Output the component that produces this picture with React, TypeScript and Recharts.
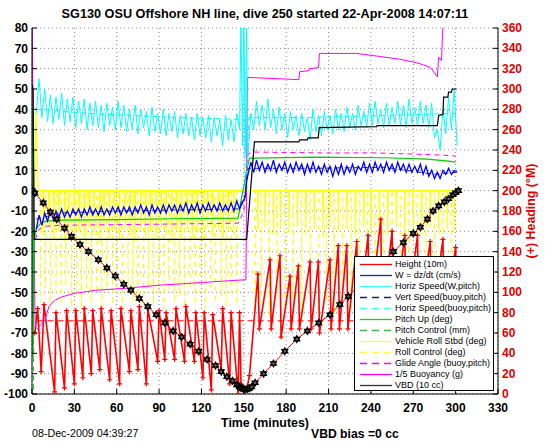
import React from 'react';
import { ComposedChart, Line, XAxis, YAxis, CartesianGrid } from 'recharts';

type Pair = [number, number];

const TITLE = 'SG130 OSU Offshore NH line, dive 250 started 22-Apr-2008 14:07:11';
const X_LABEL = 'Time (minutes)';
const RIGHT_LABEL = '(+) Heading (°M)';
const DATE_TEXT = '08-Dec-2009 04:39:27';
const BIAS_TEXT = 'VBD bias =0 cc';

const xTicks = [0, 30, 60, 90, 120, 150, 180, 210, 240, 270, 300, 330];
const leftTicks = [-100, -90, -80, -70, -60, -50, -40, -30, -20, -10, 0, 10, 20, 30, 40, 50, 60, 70, 80];
const rightTicks = [0, 20, 40, 60, 80, 100, 120, 140, 160, 180, 200, 220, 240, 260, 280, 300, 320, 340, 360];

// sample times of the noisy speed traces
const descentTimes = [3, 5, 7, 9, 11, 13, 15, 17, 19, 21, 23, 25, 27, 29, 31, 33, 35, 37, 39, 41, 43, 45, 47, 49, 51, 53, 55, 57, 59, 61, 63, 65, 67, 69, 71, 73, 75, 77, 79, 81, 83, 85, 87, 89, 91, 93, 95, 97, 99, 101, 103, 105, 107, 109, 111, 113, 115, 117, 119, 121, 123, 125, 127, 129, 131, 133, 135, 137, 139, 141, 143, 145, 147];
const ascentTimes = [153, 155, 157, 159, 161, 163, 165, 167, 169, 171, 173, 175, 177, 179, 181, 183, 185, 187, 189, 191, 193, 195, 197, 199, 201, 203, 205, 207, 209, 211, 213, 215, 217, 219, 221, 223, 225, 227, 229, 231, 233, 235, 237, 239, 241, 243, 245, 247, 249, 251, 253, 255, 257, 259, 261, 263, 265, 267, 269, 271, 273, 275, 277, 279, 281, 283, 285, 287, 289, 291, 293, 295, 297, 299, 301];

// Horiz Speed (W,pitch) cm/s
const horizSpeedDescent = [38, 55, 36, 50, 34, 47, 33, 46, 35, 48, 32, 45, 34, 46, 31, 44, 33, 45, 30, 43, 32, 44, 31, 42, 29, 43, 32, 41, 30, 44, 31, 42, 29, 40, 30, 42, 28, 40, 31, 39, 27, 41, 29, 38, 28, 40, 27, 38, 29, 39, 26, 37, 28, 38, 27, 36, 25, 38, 27, 36, 26, 37, 24, 36, 27, 35, 22, 37, 25, 35, 24, 38, 30];
const horizSpeedApogee: Pair[] = [[148, 88], [149, 22], [150, 88], [151, 18], [152, 86], [152.6, 16]];
const horizSpeedAscent = [18, 38, 30, 44, 32, 42, 30, 45, 31, 40, 28, 41, 30, 38, 26, 39, 30, 37, 27, 38, 29, 36, 25, 40, 29, 37, 27, 39, 30, 37, 28, 40, 30, 38, 29, 41, 31, 38, 30, 42, 32, 39, 31, 43, 32, 44, 33, 40, 31, 43, 32, 41, 33, 44, 32, 42, 31, 45, 33, 41, 32, 44, 33, 42, 31, 43, 26, 30, 20, 40, 28, 46, 30, 50, 22];

// W = dz/dt cm/s
const wDescent = [-19, -12, -17, -11, -15, -10, -14, -10, -13, -9, -13, -10, -13, -9, -12, -9, -13, -9, -12, -8, -12, -9, -12, -8, -12, -9, -12, -8, -11, -8, -12, -8, -11, -8, -12, -8, -11, -7, -11, -8, -12, -7, -11, -8, -11, -7, -11, -7, -10, -7, -11, -7, -10, -6, -11, -7, -10, -6, -11, -7, -10, -6, -10, -7, -10, -6, -10, -7, -10, -6, -10, -5, -9];
const wApogee: Pair[] = [[149, -6], [151, -3], [152, 5]];
const wAscent = [8, 14, 9, 15, 10, 14, 9, 13, 10, 15, 9, 13, 10, 14, 9, 13, 9, 14, 10, 13, 8, 13, 9, 14, 9, 12, 8, 13, 9, 12, 7, 12, 8, 13, 8, 12, 9, 13, 8, 12, 10, 14, 9, 13, 9, 14, 10, 13, 9, 14, 10, 13, 9, 14, 10, 13, 9, 13, 9, 12, 9, 13, 8, 12, 7, 10, 6, 9, 6, 10, 8, 11, 8, 10, 9];

// Height (10 m) profile, sampled points carry the black markers
const heightProfile: Pair[] = [[0, 0], [2, -1.2], [8, -6], [13, -10.5], [17.5, -14], [23, -18.5], [28, -22.5], [34, -26.5], [40, -30], [47, -34], [53, -38], [59, -42], [65, -46], [70, -49], [76, -53], [82, -57], [88, -61], [94, -65], [100, -69], [106, -72], [112, -75.5], [118, -79], [124, -83], [130, -86], [134, -89], [138, -91.5], [142, -93.5], [145, -95.5], [147, -96.5], [148, -97], [149.5, -97.5], [151, -97.8], [152.5, -97.5], [154, -97.2], [155.5, -96.5], [158, -94.5], [164, -90], [171, -85], [179, -79], [187.5, -73], [195, -69], [203, -65], [211, -61], [218, -56], [224, -52], [232, -46], [240, -40.5], [248, -35], [256, -30], [263, -25.5], [270, -21], [275, -18], [280, -14], [284, -10], [288, -7.5], [292, -5.5], [295, -4], [298, -2], [300, -1], [302, 0]];

// Heading (deg M), right axis
const headingDescent: Pair[] = [[2, 60], [4, 84], [6.5, 22], [8.5, 88], [16, 2], [17, 80], [23, 6], [24.5, 82], [30, 10], [31, 82], [36, 16], [37, 84], [42, 20], [43, 82], [48, 24], [49, 84], [55, 14], [56, 82], [62, 10], [63, 84], [69, 22], [70, 82], [75, 24], [76, 86], [81, 10], [82, 84], [89, 32], [90, 82], [94, 34], [95, 80], [101, 34], [102, 84], [108, 32], [109, 86], [115, 32], [116, 80], [121, 16], [122, 80], [127, 4], [128, 78], [134, 24], [135, 84], [140, 10], [141, 80], [146, 0]];
const headingAscent: Pair[] = [[147, 80], [148, 10], [152, 4], [154, 18], [160, 118], [161, 64], [168.6, 132], [169.4, 64], [175.6, 136], [176.4, 56], [182.7, 116], [183.5, 64], [188.6, 126], [189.4, 64], [196.9, 130], [197.7, 64], [202.8, 130], [203.6, 60], [211, 132], [211.8, 64], [216.9, 146], [217.7, 64], [222.9, 146], [223.7, 64], [230, 150], [230.8, 68], [238, 156], [238.8, 70], [247, 172], [247.8, 72], [255, 160], [255.8, 68], [264, 156], [264.8, 70], [273, 156], [273.8, 72], [282, 150], [282.8, 68], [291, 152], [291.8, 70], [300, 144], [301, 70]];
const desiredHeading: Pair[] = [[4, 72], [301, 72]];

const vbd: Pair[] = [[0, 52], [0.8, 50], [1.5, -24], [152, -24], [157.5, 24], [189, 24], [189.5, 25], [195, 25], [195.5, 26], [202.7, 26], [203.4, 31], [244, 31.5], [244.5, 32], [287, 32], [288, 37], [291, 37.5], [291.5, 46], [294.5, 46], [295, 48.5], [297, 48.5], [297.5, 50], [300.6, 50]];
const buoyancy: Pair[] = [[0.2, 82], [1, 20], [2, -55], [2.3, -67], [4, -68], [6, -66], [9, -64], [12, -57], [16, -54], [20, -52.5], [30, -50.5], [45, -49], [66, -48], [90, -46.5], [113, -45.5], [135, -44.5], [151.5, -43.8], [152.5, 55.7], [189, 54.6], [189.5, 58.5], [196, 59], [196.5, 60], [203, 60.5], [203.5, 67.5], [230, 67.5], [242, 66.4], [260, 64.7], [272, 63], [282, 60.7], [287, 56], [288, 65.6], [290, 64], [291, 82], [300, 82]];
const glideAngle: Pair[] = [[2.5, -24], [4, -20], [6, -18.5], [10, -17.5], [20, -17], [60, -16.7], [100, -16.4], [146, -16], [150, -10], [153, 18], [156, 19], [180, 18.8], [210, 18.5], [240, 18.6], [270, 18], [290, 17.5], [300, 17]];
const pitchUp: Pair[] = [[0.3, 40], [0.7, -82], [1.5, -24], [3, -19], [6, -16], [10, -15], [20, -14.5], [60, -14.2], [100, -13.8], [146, -13.5], [148, -5], [150, 2], [152, 10], [154, 16], [200, 16.5], [250, 16.2], [280, 15.5], [295, 14.5], [300, 14]];
const pitchControl: Pair[] = [[0.8, -20], [1, -85], [1.1, -130], [300, -130]];
const vertSpeedBuoy: Pair[] = [[3, -14], [20, -11], [60, -10], [100, -9.5], [146, -9], [151, -2], [153, 11], [200, 11], [250, 11.5], [285, 8], [300, 9]];
const horizSpeedBuoy: Pair[] = [[3, 40], [40, 38], [100, 36], [150.5, 35], [151, 0], [152, 0], [153.5, 36], [200, 36], [250, 37], [300, 38]];

const rollStart: Pair[] = [[0, 0], [2, 0], [2.8, 40], [3.5, 22], [4.5, 0]];
const rollSpikes: Pair[] = [[8, -22], [12, -18], [15.5, -24], [19, -20], [23, -25], [26, -19], [30, -23], [33.5, -20], [37, -24], [40.5, -18], [44, -22], [48, -25], [51, -19], [55, -23], [58.5, -20], [62, -24], [66, -18], [69.5, -22], [73, -25], [77, -19], [80.5, -23], [84, -20], [88, -24], [91.5, -18], [95, -22], [99, -25], [102.5, -20], [106, -23], [110, -19], [113.5, -24], [117, -21], [121, -25], [124.5, -18], [128, -23], [132, -20], [135.5, -24], [139, -19], [143, -22], [160, -20], [165, -18], [171, -22], [176, -19], [182, -21], [188, -18], [194, -22], [200, -19], [206, -23], [211, -18], [217, -21], [223, -19], [229, -22], [235, -18], [240, -21], [246, -19], [252, -22], [258, -18], [264, -21], [270, -19], [276, -22], [282, -18], [288, -21], [294, -19], [299, -20]];
const rollControlSpikes: Pair[] = [[6, -55], [9.5, -48], [13, -58], [17, -50], [20.5, -56], [24, -47], [28, -57], [31.5, -52], [35, -58], [38.5, -49], [42, -55], [46, -50], [49.5, -57], [53, -48], [57, -56], [60.5, -51], [64, -58], [68, -49], [71.5, -55], [75, -52], [79, -57], [82.5, -48], [86, -56], [90, -50], [93.5, -58], [97, -49], [101, -55], [104.5, -52], [108, -57], [112, -48], [115.5, -56], [119, -50], [123, -58], [126.5, -49], [130, -55], [134, -52], [137.5, -57], [141, -50], [145, -56], [158, -60], [162.5, -55], [168, -62], [173.5, -52], [179, -58], [185, -54], [191, -62], [197, -52], [203, -58], [208.5, -55], [214, -61], [220, -53], [226, -58], [232, -55], [237.5, -62], [243, -52], [249, -58], [255, -55], [261, -61], [267, -53], [273, -58], [279, -54], [285, -60], [291, -55], [297, -58]];

type Row = { t: number; v: number };
const rows = (pts: Pair[]): Row[] => pts.map(([t, v]) => ({ t, v }));
const zip = (ts: number[], vs: number[]): Row[] => ts.map((t, i) => ({ t, v: vs[i] }));
const spikeRows = (start: Pair[], spikes: Pair[], end: number): Row[] => {
  const out: Row[] = rows(start);
  spikes.forEach(([t, d]) => {
    out.push({ t: t - 0.3, v: 0 }, { t, v: d }, { t: t + 0.3, v: 0 });
  });
  out.push({ t: end, v: 0 });
  return out;
};

const horizSpeedRows = [...zip(descentTimes, horizSpeedDescent), ...rows(horizSpeedApogee), ...zip(ascentTimes, horizSpeedAscent)];
const wRows = [...zip(descentTimes, wDescent), ...rows(wApogee), ...zip(ascentTimes, wAscent)];
const headingRows = rows([...headingDescent, ...headingAscent]);
const rollRows = spikeRows(rollStart, rollSpikes, 301);
const rollControlRows = spikeRows([[0, 0], [3, 0]], rollControlSpikes, 301);

const C = {
  red: '#ff0000',
  blue: '#0000ff',
  navy: '#1a1a9a',
  cyan: '#00ffff',
  green: '#00cc00',
  yellow: '#ffff00',
  magenta: '#ff00ff',
  black: '#000000',
};

const FONT = '"Liberation Sans", Arial, Helvetica, sans-serif';

const BottomTick = (p: any) => (
  <g>
    <line x1={p.x} x2={p.x} y1={p.y} y2={p.y - 5} stroke="#000" strokeWidth={1} />
    <text x={p.x} y={p.y + 17.5} textAnchor="middle" fontSize={12} fontWeight="bold" fill="#000" fontFamily={FONT}>
      {p.payload.value}
    </text>
  </g>
);
const TopTick = (p: any) => <line x1={p.x} x2={p.x} y1={p.y} y2={p.y + 5} stroke="#000" strokeWidth={1} />;
const LeftTick = (p: any) => (
  <g>
    <line x1={p.x} x2={p.x + 5} y1={p.y} y2={p.y} stroke="#000" strokeWidth={1} />
    <text x={p.x - 4} y={p.y + 4.3} textAnchor="end" fontSize={12} fontWeight="bold" fill="#000" fontFamily={FONT}>
      {p.payload.value}
    </text>
  </g>
);
const RightTick = (p: any) => (
  <g>
    <line x1={p.x} x2={p.x - 5} y1={p.y} y2={p.y} stroke="#000" strokeWidth={1} />
    <text x={p.x + 4} y={p.y + 4} textAnchor="start" fontSize={12} fontWeight="bold" fill="#e00000" fontFamily={FONT}>
      {p.payload.value}
    </text>
  </g>
);

const StarDot = (p: any) => {
  const { cx, cy, index } = p;
  if (cx == null || cy == null) return <g key={`s${index}`} />;
  const r = 3.5;
  const a = 0.866 * r;
  const up = `${cx},${cy - r} ${cx + a},${cy + r / 2} ${cx - a},${cy + r / 2}`;
  const dn = `${cx},${cy + r} ${cx + a},${cy - r / 2} ${cx - a},${cy - r / 2}`;
  return (
    <g key={`s${index}`}>
      <polygon points={up} fill="#666" stroke="#000" strokeWidth={1.1} />
      <polygon points={dn} fill="none" stroke="#000" strokeWidth={1.1} />
    </g>
  );
};

const PlusDot = (p: any) => {
  const { cx, cy, index } = p;
  if (cx == null || cy == null) return <g key={`p${index}`} />;
  return <path key={`p${index}`} d={`M${cx - 2.5},${cy}h5M${cx},${cy - 2.5}v5`} stroke={C.red} strokeWidth={1.2} />;
};

const legendItems: { label: string; color: string; dash?: string }[] = [
  { label: 'Height (10m)', color: C.red },
  { label: 'W = dz/dt (cm/s)', color: '#2020c0' },
  { label: 'Horiz Speed(W,pitch)', color: '#40ffff' },
  { label: 'Vert Speed(buoy,pitch)', color: C.navy, dash: '7 5' },
  { label: 'Horiz Speed(buoy,pitch)', color: '#40ffff', dash: '7 5' },
  { label: 'Pitch Up (deg)', color: '#30c030' },
  { label: 'Pitch Control (mm)', color: '#30c030', dash: '7 5' },
  { label: 'Vehicle Roll Stbd (deg)', color: '#ffff40' },
  { label: 'Roll Control (deg)', color: '#ffff40', dash: '7 5' },
  { label: 'Glide Angle (buoy,pitch)', color: C.magenta, dash: '7 5' },
  { label: '1/5 Buoyancy (g)', color: C.magenta },
  { label: 'VBD (10 cc)', color: '#333' },
];

const common = { type: 'linear' as const, dataKey: 'v', dot: false, activeDot: false, isAnimationActive: false, legendType: 'none' as const };

export default function App() {
  return (
    <div style={{ position: 'absolute', left: 0, top: 0, width: 546, height: 442, background: '#fff', overflow: 'hidden', fontFamily: FONT }}>
      <ComposedChart width={546} height={442} margin={{ top: 28, right: 8, bottom: 28, left: 2 }}>
        <CartesianGrid stroke="#8a8a8a" strokeDasharray="1 3" strokeWidth={1} />
        <XAxis
          dataKey="t"
          type="number"
          domain={[0, 330]}
          ticks={xTicks}
          allowDataOverflow
          height={20}
          tickSize={0}
          tickMargin={0}
          tickLine={false}
          axisLine={{ stroke: '#000', strokeWidth: 1 }}
          tick={BottomTick}
          interval={0}
        />
        <XAxis
          xAxisId="top"
          orientation="top"
          dataKey="t"
          type="number"
          domain={[0, 330]}
          ticks={xTicks}
          allowDataOverflow
          height={0}
          tickSize={0}
          tickMargin={0}
          tickLine={false}
          axisLine={{ stroke: '#000', strokeWidth: 1 }}
          tick={TopTick}
          interval={0}
        />
        <YAxis
          type="number"
          domain={[-100, 80]}
          ticks={leftTicks}
          allowDataOverflow
          width={30}
          tickSize={0}
          tickMargin={0}
          tickLine={false}
          axisLine={{ stroke: '#000', strokeWidth: 1 }}
          tick={LeftTick}
          interval={0}
        />
        <YAxis
          yAxisId="right"
          orientation="right"
          type="number"
          domain={[0, 360]}
          ticks={rightTicks}
          allowDataOverflow
          width={40}
          tickSize={0}
          tickMargin={0}
          tickLine={false}
          axisLine={{ stroke: '#000', strokeWidth: 1 }}
          tick={RightTick}
          interval={0}
        />

        <Line {...common} data={rollControlRows} stroke={C.yellow} strokeWidth={1} strokeDasharray="4 5" />
        <Line {...common} data={rollRows} stroke={C.yellow} strokeWidth={1.1} />
        <Line {...common} yAxisId="right" data={rows(desiredHeading)} stroke={C.red} strokeWidth={1} strokeDasharray="6 4" />
        <Line {...common} yAxisId="right" data={headingRows} stroke={C.red} strokeWidth={1.6} dot={PlusDot} />
        <Line {...common} data={rows(pitchControl)} stroke={C.green} strokeWidth={1} strokeDasharray="5 4" />
        <Line {...common} data={rows(glideAngle)} stroke={C.magenta} strokeWidth={1} strokeDasharray="5 4" />
        <Line {...common} data={rows(buoyancy)} stroke={C.magenta} strokeWidth={1} />
        <Line {...common} data={rows(pitchUp)} stroke={C.green} strokeWidth={1.2} />
        <Line {...common} data={rows(horizSpeedBuoy)} stroke={C.cyan} strokeWidth={1} strokeDasharray="5 4" />
        <Line {...common} data={horizSpeedRows} stroke={C.cyan} strokeWidth={1} />
        <Line {...common} data={rows(vertSpeedBuoy)} stroke={C.navy} strokeWidth={1} strokeDasharray="5 4" />
        <Line {...common} data={wRows} stroke={C.blue} strokeWidth={1.3} />
        <Line {...common} data={rows(vbd)} stroke={C.black} strokeWidth={1.2} />
        <Line {...common} data={rows(heightProfile)} stroke={C.red} strokeWidth={1} dot={StarDot} />
      </ComposedChart>

      <svg width={546} height={442} style={{ position: 'absolute', left: 0, top: 0, pointerEvents: 'none' }}>
        <text x={265} y={18} textAnchor="middle" fontSize={12.7} fontWeight="bold" fill="#000" fontFamily={FONT}>{TITLE}</text>
        <text x={265} y={427} textAnchor="middle" fontSize={12.4} fontWeight="bold" fill="#000" fontFamily={FONT}>{X_LABEL}</text>
        <text x={32} y={437} fontSize={10.7} fill="#000" fontFamily={FONT}>{DATE_TEXT}</text>
        <text x={311} y={438} fontSize={12.2} fontWeight="bold" fill="#000" fontFamily={FONT}>{BIAS_TEXT}</text>
        <text transform="translate(535,211) rotate(-90)" textAnchor="middle" fontSize={12.4} fontWeight="bold" fill="#e00000" fontFamily={FONT}>{RIGHT_LABEL}</text>
      </svg>

      <div style={{ position: 'absolute', left: 354, top: 256, width: 140, height: 135, border: '1px solid #000', background: '#fff', boxSizing: 'border-box' }}>
        {legendItems.map((it, i) => (
          <div key={it.label} style={{ position: 'absolute', left: 0, top: 2 + i * 10.97, height: 11, width: 139, display: 'flex', alignItems: 'center' }}>
            <svg width={40} height={11} style={{ flex: '0 0 40px' }}>
              <line x1={5} x2={37} y1={5.5} y2={5.5} stroke={it.color} strokeWidth={1.3} strokeDasharray={it.dash} />
            </svg>
            <span style={{ fontSize: 9, lineHeight: '11px', color: '#000', whiteSpace: 'nowrap', fontFamily: FONT }}>{it.label}</span>
          </div>
        ))}
      </div>
    </div>
  );
}
